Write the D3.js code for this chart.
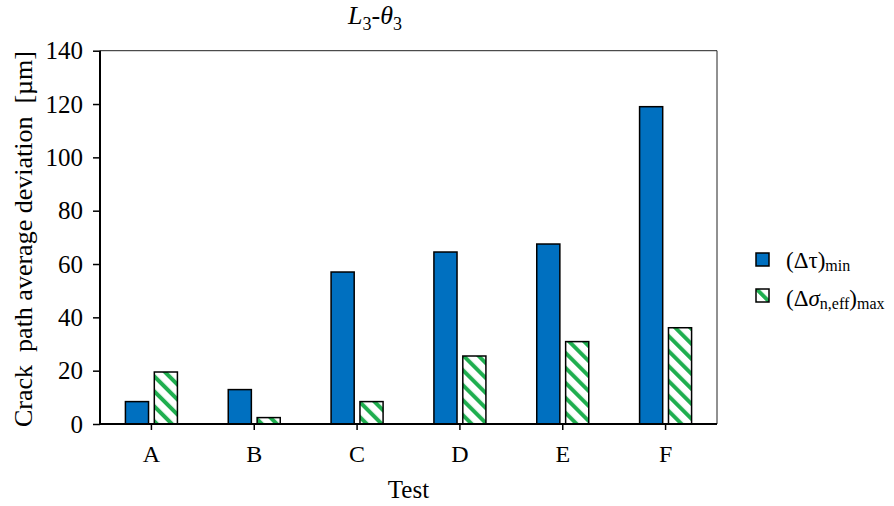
<!DOCTYPE html>
<html>
<head>
<meta charset="utf-8">
<script src="https://cdn.jsdelivr.net/npm/d3@7"></script>
<style>
  html, body { margin: 0; padding: 0; background: #fff; }
  svg { display: block; }
</style>
</head>
<body>
<svg id="chart" width="894" height="506"></svg>
<script>
// ---- data ----
const categories = ["A", "B", "C", "D", "E", "F"];
const seriesNames = ["tauMin", "sigmaMax"];
const tauMin = [8.4, 12.9, 57.0, 64.5, 67.5, 119.0];
const sigmaMax = [19.5, 2.4, 8.4, 25.5, 30.9, 36.1];
const yTicks = [0, 20, 40, 60, 80, 100, 120, 140];

(function () {
const FONT = "'Liberation Serif', 'Times New Roman', serif";
const svg = d3.select("#chart");
const pL = 100, pR = 717, pT = 50.7, pB = 424;

const x = d3.scaleBand().domain(categories).range([pL, pR]).padding(0);
const xSub = d3.scaleBand().domain(seriesNames).range([-26, 26]).paddingInner(0.2);
const y = d3.scaleLinear().domain([0, 140]).range([pB, pT]);

// pattern
const defs = svg.append("defs");
const pat = defs.append("pattern")
  .attr("id", "hatch")
  .attr("patternUnits", "userSpaceOnUse")
  .attr("width", 10.6).attr("height", 10.6)
  .attr("patternTransform", "rotate(-45)");
pat.append("rect").attr("width", 10.6).attr("height", 10.6).attr("fill", "#fff");
pat.append("rect").attr("x", 0).attr("y", 0).attr("width", 4).attr("height", 10.6).attr("fill", "#1fae4f");

const fills = { tauMin: "#0070C0", sigmaMax: "url(#hatch)" };
const values = { tauMin, sigmaMax };

// plot border (thin top/right)
svg.append("path")
  .attr("d", `M${pL},${pT}H${pR}V${pB}`)
  .attr("fill", "none").attr("stroke", "#222").attr("stroke-width", 1);

// bars
categories.forEach((c, i) => {
  seriesNames.forEach(s => {
    const v = values[s][i];
    svg.append("rect")
      .attr("x", x(c) + x.bandwidth() / 2 + xSub(s))
      .attr("y", y(v))
      .attr("width", xSub.bandwidth())
      .attr("height", y(0) - y(v))
      .attr("fill", fills[s])
      .attr("stroke", "#000").attr("stroke-width", 1.5);
  });
});

// y axis
const yAxis = svg.append("g").attr("transform", `translate(${pL},0)`)
  .call(d3.axisLeft(y).tickValues(yTicks).tickSize(7).tickPadding(10).tickFormat(d3.format("d")));
yAxis.select(".domain").attr("stroke-width", 2).attr("d", `M0,${pT}V${pB}`);
yAxis.selectAll(".tick line").attr("stroke-width", 1.5);
yAxis.selectAll("text").style("font-size", "25px").style("font-family", FONT).attr("dy", "0.33em");

// x axis
const xAxis = svg.append("g").attr("transform", `translate(0,${pB})`)
  .call(d3.axisBottom(x).tickSize(6).tickPadding(0));
xAxis.select(".domain").attr("stroke-width", 2).attr("d", `M${pL},0H${pR}`);
xAxis.selectAll(".tick line").attr("stroke-width", 1.5);
xAxis.selectAll("text").style("font-size", "24px").style("font-family", FONT)
  .attr("y", 38).attr("dy", 0);

// axis titles
svg.append("text")
  .attr("x", (pL + pR) / 2).attr("y", 498)
  .attr("text-anchor", "middle")
  .style("font-size", "25px").style("font-family", FONT)
  .text("Test");

svg.append("text")
  .attr("transform", `translate(32,239) rotate(-90)`)
  .attr("text-anchor", "middle")
  .style("font-size", "26px").style("font-family", FONT)
  .style("white-space", "pre")
  .text("Crack  path average deviation  [µm]");

// title
const t = svg.append("text").attr("x", 375).attr("y", 24).attr("text-anchor", "middle")
  .style("font-size", "26px").style("font-family", FONT);
t.append("tspan").style("font-style", "italic").text("L");
t.append("tspan").style("font-size", "18px").attr("dy", 6).text("3");
t.append("tspan").attr("dy", -6).text("-");
t.append("tspan").style("font-style", "italic").text("θ");
t.append("tspan").style("font-size", "18px").attr("dy", 6).text("3");

// legend
const legendY = [253, 289];
seriesNames.forEach((s, i) => {
  svg.append("rect").attr("x", 756).attr("y", legendY[i]).attr("width", 13).attr("height", 13)
    .attr("fill", fills[s]).attr("stroke", "#000").attr("stroke-width", 1.5);
});
const l1 = svg.append("text").attr("x", 786).attr("y", 268)
  .style("font-size", "23px").style("font-family", FONT);
l1.append("tspan").text("(Δτ)");
l1.append("tspan").style("font-size", "16px").attr("dy", 3).text("min");

const l2 = svg.append("text").attr("x", 786).attr("y", 306)
  .style("font-size", "23px").style("font-family", FONT);
l2.append("tspan").text("(Δ");
l2.append("tspan").style("font-style", "italic").text("σ");
l2.append("tspan").style("font-size", "16px").attr("dy", 3).text("n,eff");
l2.append("tspan").attr("dy", -3).text(")");
l2.append("tspan").style("font-size", "16px").attr("dy", 3).text("max");
})();
</script>
</body>
</html>
